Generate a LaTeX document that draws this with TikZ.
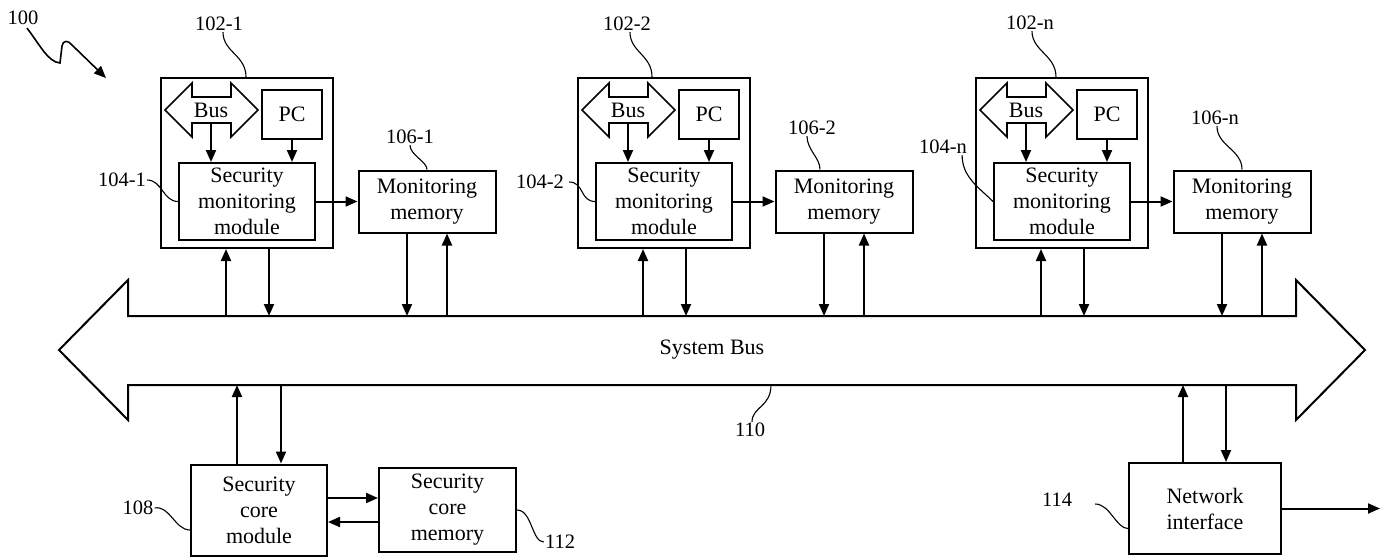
\documentclass[tikz,border=0pt]{standalone}
\usepackage{fontspec}
\setmainfont{Liberation Serif}
\usetikzlibrary{arrows.meta,calc}
\newcommand\boxfont{\fontsize{22}{26}\selectfont}
\newcommand\tagfont{\fontsize{20.5}{24}\selectfont}

\begin{document}
\begin{tikzpicture}[x=1pt, y=-1pt,
  block/.style={draw, line width=2pt, inner sep=0pt, align=center, font=\boxfont},
  tag/.style={font=\tagfont, inner sep=1pt},
  flow/.style={line width=2pt, -{Triangle[length=12pt,width=10pt]}},
  lead/.style={line width=1.1pt},
  busline/.style={line width=2pt, line join=miter}]

\useasboundingbox (0,0) rectangle (1384,557);

% system bus
\coordinate (bustop) at (0,316);
\coordinate (busbot) at (0,385);
\draw[busline] (59,350) -- (128,280) -- (128,316) -- (1296,316) -- (1296,280) -- (1365,350)
  -- (1296,420) -- (1296,385) -- (128,385) -- (128,420) -- cycle;
\node[font=\boxfont] (sysbus) at (712,350) {System Bus};

% processing units
\foreach \L/\k in {161/1, 578/2, 976/n} {
  \node[block, minimum width=172pt, minimum height=170pt] (box\k) at (\L+86,163) {};
  \draw[line width=1.7pt, line join=miter] (\L+4,110) -- (\L+31,83) -- (\L+31,97) -- (\L+70,97)
    -- (\L+70,83) -- (\L+97,110) -- (\L+70,137) -- (\L+70,123) -- (\L+31,123) -- (\L+31,137) -- cycle;
  \node[font=\boxfont, inner sep=0pt] (bus\k) at (\L+50,110) {Bus};
  \coordinate (ib\k) at (\L+50,123);
  \node[block, minimum width=60pt, minimum height=49pt] (pc\k) at (\L+131,114.5) {PC};
  \node[block, minimum width=136pt, minimum height=77pt] (smm\k) at (\L+86,201.5) {Security\\monitoring\\module};
  \node[block, minimum width=137pt, minimum height=62pt] (mm\k) at (\L+266,201.5) {Monitoring\\memory};
  \draw[flow] (ib\k) -- (ib\k |- smm\k.north);
  \draw[flow] (pc\k.south) -- (pc\k.south |- smm\k.north);
  \draw[flow] (smm\k.east) -- (mm\k.west);
  \coordinate (bu\k) at ($(box\k.south)+(-21,0)$);
  \coordinate (bd\k) at ($(box\k.south)+(22,0)$);
  \coordinate (md\k) at ($(mm\k.south)+(-20,0)$);
  \coordinate (mu\k) at ($(mm\k.south)+(20,0)$);
  \draw[flow] (bu\k |- bustop) -- (bu\k);
  \draw[flow] (bd\k) -- (bd\k |- bustop);
  \draw[flow] (md\k) -- (md\k |- bustop);
  \draw[flow] (mu\k |- bustop) -- (mu\k);
}

% security core
\node[block, minimum width=136pt, minimum height=91pt] (scm) at (259,510) {Security\\core\\module};
\node[block, minimum width=137pt, minimum height=84pt] (scmem) at (447.5,510) {Security\\core\\memory};
\draw[flow] ([yshift=12pt]scm.east) -- ([yshift=12pt]scmem.west);
\draw[flow] ([yshift=-12pt]scmem.west) -- ([yshift=-12pt]scm.east);
\coordinate (cu) at ($(scm.north)+(-22,0)$);
\coordinate (cd) at ($(scm.north)+(22,0)$);
\draw[flow] (cu) -- (cu |- busbot);
\draw[flow] (cd |- busbot) -- (cd);

% network interface
\node[block, minimum width=152pt, minimum height=91pt] (netif) at (1205,508.5) {Network\\interface};
\coordinate (netout) at (1380,508.5);
\coordinate (nu) at ($(netif.north)+(-22,0)$);
\coordinate (nd) at ($(netif.north)+(21,0)$);
\draw[flow] (nu) -- (nu |- busbot);
\draw[flow] (nd |- busbot) -- (nd);
\draw[flow] (netif.east) -- (netout);

% reference numerals
\node[tag] (l100) at (23,18) {100};
\draw[line width=1.6pt, -{Triangle[length=12pt,width=10pt]}] ($(l100.south)+(4,2)$)
  .. controls (40,45) and (48,62) .. (60,63) -- (62,46) .. controls (63,40) and (68,40) .. (72,45) -- (106,78);

\node[tag] (l102x1) at (219,24) {102-1};
\node[tag] (l102x2) at (627,24) {102-2};
\node[tag] (l102xn) at (1030,23) {102-n};
\draw[lead] ([xshift=4pt]l102x1.south) .. controls +(0,20) and +(0,-22) .. ($(box1.north west)+(86,0)$);
\draw[lead] ([xshift=3pt]l102x2.south) .. controls +(0,20) and +(0,-22) .. ($(box2.north west)+(75,0)$);
\draw[lead] ([xshift=2pt]l102xn.south) .. controls +(0,20) and +(0,-22) .. ($(boxn.north west)+(81,0)$);

\node[tag] (l104x1) at (122,180) {104-1};
\node[tag] (l104x2) at (540,182) {104-2};
\node[tag] (l104xn) at (943,147) {104-n};
\draw[lead] (l104x1.east) .. controls +(15,0) and +(-15,0) .. (smm1.west);
\draw[lead] ([xshift=4pt]l104x2.east) .. controls +(15,0) and +(-15,0) .. (smm2.west);
\draw[lead] ([xshift=-6pt]l104xn.south east) .. controls +(0,22) and +(-14,-14) .. (smmn.west);

\node[tag] (l106x1) at (410,137) {106-1};
\node[tag] (l106x2) at (812,128) {106-2};
\node[tag] (l106xn) at (1215,118) {106-n};
\draw[lead] (l106x1.south) .. controls +(0,10) and +(0,-8) .. (mm1.north);
\draw[lead] ([xshift=-5pt]l106x2.south) .. controls +(0,14) and +(0,-12) .. ($(mm2.north)+(-24,0)$);
\draw[lead] ([xshift=2pt]l106xn.south) .. controls +(0,20) and +(0,-20) .. (mmn.north);

\coordinate (c110) at (771,385);
\node[tag] (l110) at (750,430) {110};
\draw[lead] (c110) .. controls +(0,22) and +(0,-15) .. ([xshift=2pt]l110.north);

\node[tag] (l108) at (138,508) {108};
\draw[lead] (l108.east) .. controls +(15,-3) and +(-15,0) .. ($(scm.west)+(0,20)$);

\node[tag] (l112) at (560,542) {112};
\draw[lead] (scmem.east) .. controls +(15,0) and +(-12,0) .. (l112.west);

\node[tag] (l114) at (1057,500) {114};
\draw[lead] ([xshift=22pt,yshift=-4pt]l114.east) .. controls +(15,0) and +(-12,0) .. ($(netif.west)+(0,20)$);
\end{tikzpicture}
\end{document}
